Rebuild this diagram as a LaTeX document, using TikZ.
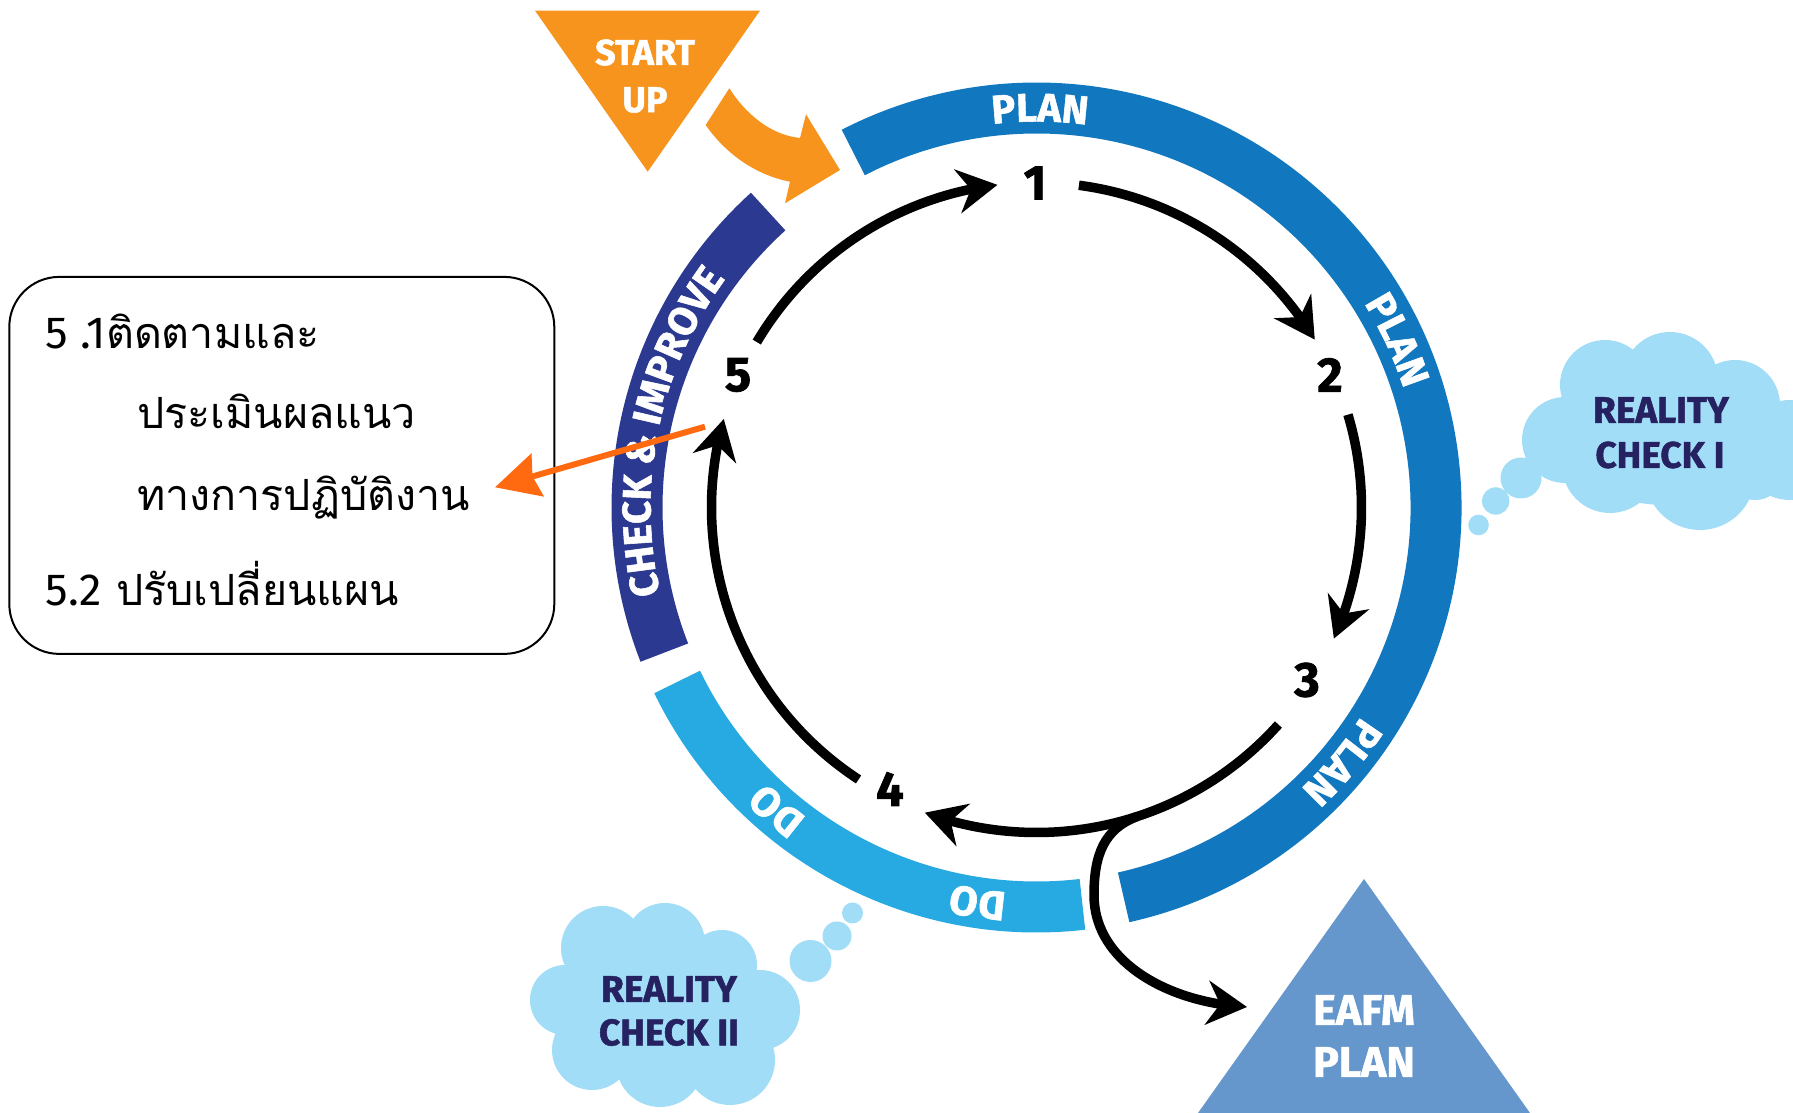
\documentclass[tikz,border=0pt]{standalone}
\usepackage{fontspec}
\setmainfont{Fira Sans}[BoldFeatures={FakeBold=1.4}]
\newfontfamily\thaifont[Script=Thai]{Loma}
\usetikzlibrary{arrows.meta,decorations.text,bending}
\definecolor{planblue}{HTML}{1177BF}
\definecolor{checkblue}{HTML}{2B3990}
\definecolor{doblue}{HTML}{27AAE1}
\definecolor{startorange}{HTML}{F7941E}
\definecolor{arroworange}{HTML}{FF6A10}
\definecolor{eafmblue}{HTML}{6597CC}
\definecolor{cloudc}{HTML}{A1DDF6}
\definecolor{cloudtext}{HTML}{262262}
\newcommand\ringlabel[4]{\path[decorate,decoration={text along path,text={|\fontsize{#4}{#4}\selectfont\bfseries|#2},text align=center,text color=white}] ([shift={(#1+#3:386)}]C) arc[start angle=#1+#3, end angle=#1-#3, radius=386];}
\begin{document}
\begin{tikzpicture}[x=1pt,y=1pt,
  ring/.style={line width=51pt},
  cyc/.style={line width=9.5pt,-{Stealth[length=40pt,width=44pt,inset=13pt]}},
  num/.style={font=\fontsize{49}{51}\selectfont\bfseries, inner sep=0pt},
  lab/.style={font=\fontsize{36}{38}\selectfont\bfseries, text=white, inner sep=0pt},
  cloudtxt/.style={font=\fontsize{37}{39}\selectfont\bfseries, text=cloudtext, inner sep=0pt},
  thai/.style={font=\fontsize{43}{45}\selectfont\thaifont, anchor=base west, inner sep=0pt}]
\useasboundingbox (0,0) rectangle (1793,1113);
\coordinate (C) at (1036.5,605.5);

% ring segments
\draw[ring, planblue] ([shift={(-77.4:399.5)}]C) arc[start angle=-77.4, end angle=117.3, radius=399.5];
\draw[ring, checkblue] ([shift={(132.2:399.5)}]C) arc[start angle=132.2, end angle=201.3, radius=399.5];
\draw[ring, doblue] ([shift={(205.9:399.5)}]C) arc[start angle=205.9, end angle=276.6, radius=399.5];

% ring labels
\ringlabel{89.5}{PLAN}{25}{40}
\ringlabel{24.9}{PLAN}{25}{40}
\ringlabel{-39.8}{PLAN}{25}{40}
\ringlabel{229.4}{DO}{20}{41}
\ringlabel{261.5}{DO}{20}{41}
\ringlabel{168.3}{CHECK {\&} IMPROVE}{34}{40}

% cycle arrows
\draw[cyc] ([shift={(149.4:325)}]C) arc[start angle=149.4, end angle=96.9, radius=325];
\draw[cyc] ([shift={(82.5:325)}]C) arc[start angle=82.5, end angle=31.1, radius=325];
\draw[cyc] ([shift={(16.6:325)}]C) arc[start angle=16.6, end angle=-23.8, radius=325];
\draw[cyc] ([shift={(-41.9:325)}]C) arc[start angle=-41.9, end angle=-110.1, radius=325];
\draw[cyc] ([shift={(236.8:325)}]C) arc[start angle=236.8, end angle=164.2, radius=325];

% numbers
\node[num] (n1) at (1035,930) {1};
\node[num] (n2) at (1330,738) {2};
\node[num] (n3) at (1307,433) {3};
\node[num] (n4) at (890,324) {4};
\node[num] (n5) at (738,738) {5};

% EAFM triangle
\fill[eafmblue] (1364,234) -- (1530,0) -- (1198,0) -- cycle;
\node[lab, font=\fontsize{43}{45}\selectfont\bfseries] (eafm) at (1364,103) {EAFM};
\node[lab, font=\fontsize{43}{45}\selectfont\bfseries] (eplan) at (1364,51) {PLAN};

% branch to EAFM
\coordinate (b0) at ([shift={(-72:325)}]C);
\coordinate (bl) at (1094,218);
\coordinate (bt) at (1247,106);
\draw[cyc] (b0) .. controls (1104,284) and (1094,258) .. (bl) .. controls (1094,150) and (1170,110) .. (bt);

% START UP
\fill[startorange] (535,1102.3) -- (760,1102.3) -- (647.7,941.3) -- cycle;
\node[lab] (start) at (645,1060.5) {START};
\node[lab] (up) at (645,1013) {UP};
\fill[startorange] (729.3,1024.7) .. controls (745,1000) and (770,978) .. (800,975) -- (806,998.7) -- (840,943) -- (785,909.7) -- (790,931.3) .. controls (755,938) and (725,960) .. (705.7,988) -- cycle;

% Thai box
\node[draw, line width=2pt, rounded corners=50pt, minimum width=545pt, minimum height=377pt] (box) at (281.8,647.6) {};
\node[thai] (t1) at (45.7,764) {{\fontspec{Fira Sans}\fontsize{45}{47}\selectfont 5 .1}ติดตามและ};
\node[thai] (t2) at (137,684) {ประเมินผลแนว};
\node[thai] (t3) at (137,602) {ทางการปฏิบัติงาน};
\node[thai] (t4) at (45.7,507) {{\fontspec{Fira Sans}\fontsize{45}{47}\selectfont 5.2} ปรับเปลี่ยนแผน};

% orange arrow to box
\coordinate (o5) at (705,686.3);
\coordinate (ot) at (495,625.7);
\draw[arroworange, line width=6pt, -{Stealth[length=44pt,width=44pt,inset=5pt]}] (o5) -- (ot);

% cloud I
\fill[cloudc] (1565,673) circle[radius=43] (1605,728) circle[radius=45] (1670,733) circle[radius=48]
  (1735,708) circle[radius=45] (1790,663) circle[radius=50] (1700,638) circle[radius=55]
  (1610,648) circle[radius=48] (1755,643) circle[radius=30] (1665,673) ellipse[x radius=100, y radius=65];
\fill[cloudc] (1521,635) circle[radius=20.5] (1495.7,612) circle[radius=13.7] (1478.5,588) circle[radius=10.3];
\node[cloudtxt] (r1a) at (1661,703) {REALITY};
\node[cloudtxt] (r1b) at (1660,658) {CHECK I};

% cloud II
\fill[cloudc] (565,113) circle[radius=35] (603,165) circle[radius=42] (665,170) circle[radius=40]
  (722,148) circle[radius=35] (760,103) circle[radius=40] (730,53) circle[radius=45]
  (660,50) circle[radius=44] (592,63) circle[radius=40] (665,103) ellipse[x radius=90, y radius=60];
\fill[cloudc] (810.5,152) circle[radius=21] (837,177) circle[radius=14.5] (852.5,200) circle[radius=10.5];
\node[cloudtxt] (r2a) at (669,124) {REALITY};
\node[cloudtxt] (r2b) at (669,80.5) {CHECK II};
\end{tikzpicture}
\end{document}
